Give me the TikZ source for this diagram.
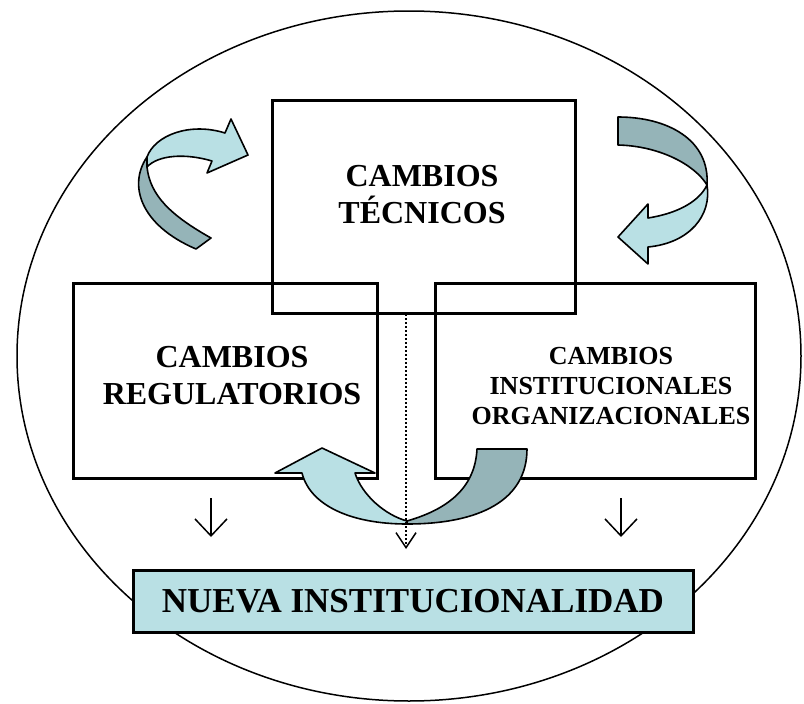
\documentclass[tikz,border=0pt]{standalone}
\usepackage{fontspec}
\setmainfont{Liberation Serif}
\usetikzlibrary{arrows.meta}
\definecolor{lightband}{HTML}{B9E0E4}
\definecolor{darkband}{HTML}{95B4B8}
\begin{document}
\begin{tikzpicture}[x=1pt,y=-1pt,
  boxsq/.style={draw, line width=3pt, inner sep=0pt},
  lbl/.style={align=center, inner sep=0pt, font=\fontsize{32}{37}\selectfont\bfseries},
  lblsmall/.style={align=center, inner sep=0pt, font=\fontsize{26}{30}\selectfont\bfseries},
  band/.style={draw, line width=1.6pt, line join=round},
  downarr/.style={line width=1.5pt, -{Straight Barb[length=17pt,width=32pt,line width=1.5pt]}},
  midarr/.style={line width=2.2pt, dash pattern=on 2pt off 2pt, -{Straight Barb[length=15pt,width=20pt,line width=1.5pt]}}
]
\useasboundingbox (0,0) rectangle (804,704);

% outer ellipse
\draw[line width=1.5pt] (409,356) ellipse [x radius=392, y radius=345];

% boxes
\node[boxsq, minimum width=303pt, minimum height=213pt] (tec) at (423.5,206.5) {};
\node[boxsq, minimum width=304pt, minimum height=195pt] (reg) at (225,380.5) {};
\node[boxsq, minimum width=320pt, minimum height=195pt] (ins) at (595,380.5) {};

% labels
\node[lbl] (tecl) at (422,195) {CAMBIOS\\TÉCNICOS};
\node[lbl] (regl) at (232,376) {CAMBIOS\\REGULATORIOS};
\node[lblsmall] (insl) at (611,386) {CAMBIOS\\INSTITUCIONALES\\ORGANIZACIONALES};

% curved arrow top-left
\draw[band, fill=darkband] (147,157) .. controls (128,185) and (140,225) .. (196,249) -- (211,238) .. controls (170,215) and (150,195) .. (147,167) -- cycle;
\draw[band, fill=lightband] (225,133) -- (231,119) -- (248,155) -- (207,173) -- (212,161) .. controls (185,153) and (158,155) .. (147,167) -- (147,157) .. controls (155,135) and (190,122) .. (225,133) -- cycle;

% curved arrow top-right
\draw[band, fill=darkband] (618,117) .. controls (668,117) and (710,140) .. (707,185) .. controls (695,165) and (660,146) .. (618,145) -- cycle;
\draw[band, fill=lightband] (707,185) .. controls (712,215) and (690,243) .. (648,247) -- (648,264) -- (618,237) -- (648,204) -- (648,218) .. controls (680,213) and (700,200) .. (707,185) -- cycle;

% curved arrow bottom
\draw[band, fill=darkband] (477,449) -- (527,449) .. controls (527,500) and (480,524) .. (407,524) -- (407,521) .. controls (445,510) and (475,490) .. (477,449) -- cycle;
\draw[band, fill=lightband] (407,524) .. controls (350,524) and (310,505) .. (302,473) -- (275,473) -- (322,448) -- (375,473) -- (355,473) .. controls (362,495) and (385,515) .. (407,521) -- cycle;

% bottom box
\node[draw, line width=3pt, fill=lightband, minimum width=560pt, minimum height=62pt, inner sep=0pt,
      font=\fontsize{35}{40}\selectfont\bfseries] (nueva) at (413,601) {NUEVA INSTITUCIONALIDAD};

% arrows
\coordinate (ls) at (211,498);
\coordinate (le) at (211,537);
\coordinate (rs) at (621,498);
\coordinate (re) at (621,537);
\coordinate (ms) at (406,314);
\coordinate (me) at (406,549);
\draw[downarr] (ls) -- (le);
\draw[downarr] (rs) -- (re);
\draw[midarr] (ms) -- (me);
\end{tikzpicture}
\end{document}
